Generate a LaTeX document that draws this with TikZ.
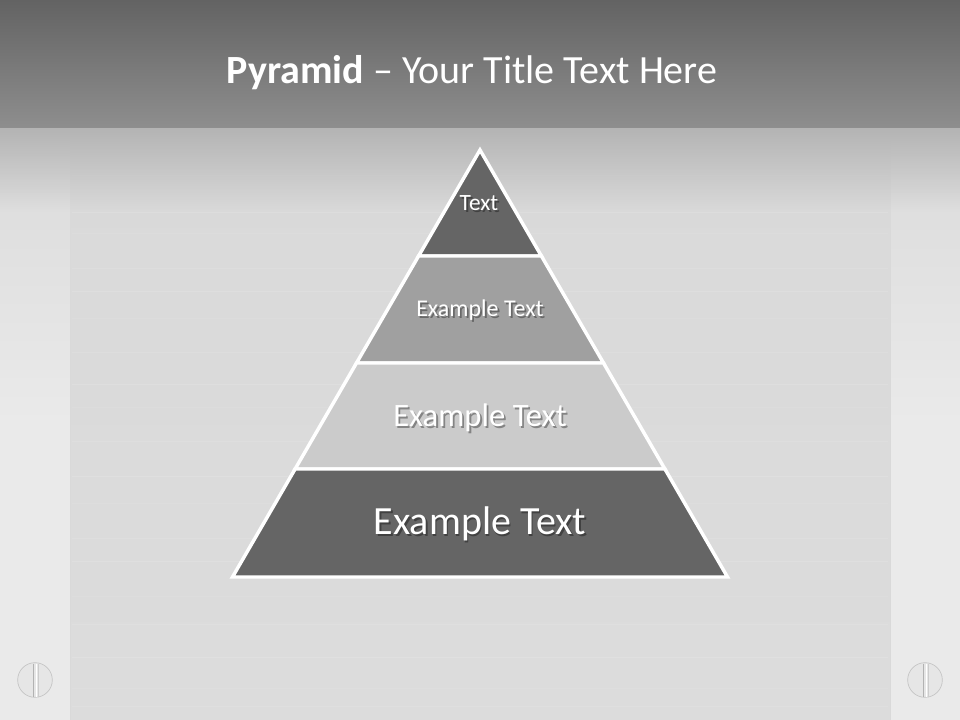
\documentclass[tikz,border=0pt]{standalone}
\usepackage{fontspec}
\setmainfont{Carlito}
\usetikzlibrary{calc,fadings}
\definecolor{barTop}{HTML}{636363}
\definecolor{barBot}{HTML}{8E8E8E}
\definecolor{shadeTop}{HTML}{B4B4B4}
\definecolor{panelMid}{HTML}{D9D9D9}
\definecolor{panelBot}{HTML}{DCDCDC}
\definecolor{sideA}{HTML}{DADADA}
\definecolor{sideB}{HTML}{EAEAEA}
\definecolor{tierDark}{HTML}{656565}
\definecolor{tierMid}{HTML}{A0A0A0}
\definecolor{tierLight}{HTML}{CBCBCB}
\definecolor{screwFill}{HTML}{E6E6E6}
\definecolor{screwLine}{HTML}{C4C4C4}
\tikzfading[name=fadedown, top color=transparent!0, bottom color=transparent!100]
\tikzset{
  tier/.style={draw=white, line width=2.6pt, line join=miter},
  lbl/.style={text=white, inner sep=0pt, anchor=center},
  shd/.style={text=black, opacity=0.35, inner sep=0pt, anchor=center},
  screw/.style={circle, minimum size=26pt, inner sep=0pt, fill=screwFill, draw=screwLine, line width=0.5pt},
}
\begin{document}
\begin{tikzpicture}[x=0.75pt, y=-0.75pt]
\useasboundingbox (0,0) rectangle (960,720);
% body background
\shade[top color=panelMid, bottom color=panelBot] (70,128) rectangle (890,720);
% side strips
\shade[top color=sideA, bottom color=sideB, middle color=sideB] (0,128) rectangle (70,720);
\shade[top color=sideA, bottom color=sideB, middle color=sideB] (890,128) rectangle (960,720);
\draw[black!15, line width=0.5pt] (70,128) -- (70,720);
\draw[black!15, line width=0.5pt] (890,128) -- (890,720);
% brushed texture
\foreach \yy/\op in {175/0.1,212/0.12,233/0.08,268/0.1,291/0.12,318/0.08,352/0.1,384/0.12,407/0.08,441/0.1,476/0.12,503/0.08,538/0.1,561/0.12,596/0.08,624/0.1,657/0.12,688/0.08,706/0.1}{
  \draw[white, opacity=\op, line width=0.6pt] (72,\yy) -- (888,\yy);
}
% shadow under title bar
\fill[shadeTop, path fading=fadedown] (0,128) rectangle (960,210);
% title bar
\shade[top color=barTop, bottom color=barBot] (0,0) rectangle (960,128);
\node[text=white, font=\fontsize{30}{36}\selectfont, anchor=center] (title) at (472,73) {\textbf{Pyramid} – Your Title Text Here};
% pyramid coordinates
\coordinate (apex) at (480,150);
\coordinate (l1) at (418.6,256); \coordinate (r1) at (541.4,256);
\coordinate (l2) at (356.5,363); \coordinate (r2) at (603.5,363);
\coordinate (l3) at (295.1,469); \coordinate (r3) at (664.9,469);
\coordinate (l4) at (232.5,577); \coordinate (r4) at (727.5,577);
\filldraw[tier, fill=tierDark] (apex) -- (r1) -- (l1) -- cycle;
\filldraw[tier, fill=tierMid] (l1) -- (r1) -- (r2) -- (l2) -- cycle;
\filldraw[tier, fill=tierLight] (l2) -- (r2) -- (r3) -- (l3) -- cycle;
\filldraw[tier, fill=tierDark] (l3) -- (r3) -- (r4) -- (l4) -- cycle;
% labels with shadows
\node[shd, font=\fontsize{17.5}{21}\selectfont] (s1) at (480.8,205.3) {Text};
\node[lbl, font=\fontsize{17.5}{21}\selectfont] (t1) at (479,203.5) {Text};
\node[shd, font=\fontsize{18}{22}\selectfont] (s2) at (481.8,311.8) {Example Text};
\node[lbl, font=\fontsize{18}{22}\selectfont] (t2) at (480,310) {Example Text};
\node[shd, font=\fontsize{24.5}{29}\selectfont] (s3) at (481.8,419.3) {Example Text};
\node[lbl, font=\fontsize{24.5}{29}\selectfont] (t3) at (480,417.5) {Example Text};
\node[shd, font=\fontsize{30}{36}\selectfont] (s4) at (481.8,525.8) {Example Text};
\node[lbl, font=\fontsize{30}{36}\selectfont] (t4) at (480,524) {Example Text};
% screws
\node[screw] (screwL) at (35,680) {};
\node[screw] (screwR) at (925,680) {};
\foreach \s in {screwL, screwR}{
  \draw[black!30, line width=0.7pt] ($(\s)+(-1.5,-16.5)$) -- ($(\s)+(-1.5,16.5)$);
  \draw[white, line width=0.7pt] ($(\s)+(1.5,-16.5)$) -- ($(\s)+(1.5,16.5)$);
  \draw[black!20, line width=0.5pt] ($(\s)+(3.5,-16.5)$) -- ($(\s)+(3.5,16.5)$);
}
\end{tikzpicture}
\end{document}
